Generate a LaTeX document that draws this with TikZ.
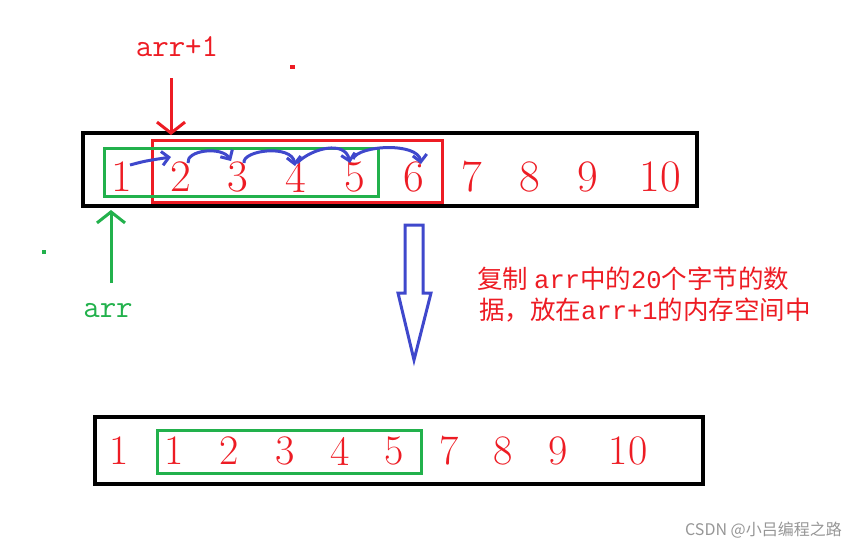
\documentclass[tikz,border=0pt]{standalone}
\usepackage{fontspec}
\newfontfamily\cjk{Noto Sans CJK SC}
\newfontfamily\mono{Liberation Mono}
\usetikzlibrary{arrows.meta}
\definecolor{pred}{RGB}{237,28,36}
\definecolor{pgreen}{RGB}{34,177,76}
\definecolor{pblue}{RGB}{63,72,204}
\definecolor{wm}{RGB}{150,150,150}
\tikzset{
  dig/.style={text=pred,inner sep=0pt,font=\fontsize{45}{45}\selectfont},
  digb/.style={text=pred,inner sep=0pt,font=\fontsize{42}{42}\selectfont},
  blk/.style={draw=black,line width=3.5pt},
  rbox/.style={draw=pred,line width=3pt},
  gbox/.style={draw=pgreen,line width=3pt},
  bar/.style={draw=pblue,line width=3pt,-{Straight Barb[length=7pt,width=14pt,line width=3pt]}},
  ptr/.style={line width=3pt,-{Straight Barb[length=11pt,width=28pt,line width=3pt]}},
  lbl/.style={inner sep=0pt,font=\ttfamily\fontsize{32}{32}\selectfont},
  note/.style={anchor=west,inner sep=0pt,text=pred,font=\cjk\fontsize{25.5}{25.5}\selectfont}
}
\begin{document}
\begin{tikzpicture}[x=1pt,y=-1pt]
\useasboundingbox (0,0) rectangle (858,549);
% top row
\node[blk,minimum width=614pt,minimum height=73pt,inner sep=0pt] (topbox) at (390,169.5) {};
\node[rbox,minimum width=290pt,minimum height=62pt,inner sep=0pt] (redbox) at (297,171) {};
\node[gbox,minimum width=274pt,minimum height=48pt,inner sep=0pt] (greenbox) at (241,172) {};
\foreach \n/\x in {1/122,2/181,3/238,4/296,5/355,6/414,7/472,8/530,9/588,10/660}
  \node[dig] (t\n) at (\x,177) {\n};
% pointers
\node[lbl,text=pred] (lp) at (177,47) {arr+1};
\coordinate (lpa) at (171,78);
\coordinate (lpb) at (171,135);
\draw[ptr,pred] (lpa) -- (lpb);
\node[lbl,text=pgreen] (lg) at (108,311) {arr};
\coordinate (lga) at (111,283);
\coordinate (lgb) at (111,210);
\draw[ptr,pgreen] (lga) -- (lgb);
% stray dots
\fill[pred] (290,65) rectangle (295,69);
\fill[pgreen] (42,250) rectangle (46,254);
% blue copy arrows
\coordinate (s1) at (130,165); \coordinate (e1) at (171,157);
\coordinate (s2) at (188,163); \coordinate (e2) at (231,161);
\coordinate (s3) at (244,163); \coordinate (e3) at (295,166);
\coordinate (s4) at (297,163); \coordinate (e4) at (350,163);
\coordinate (s5) at (353,159); \coordinate (e5) at (421,164);
\draw[bar] (s1) .. controls (145,161) .. (e1);
\draw[bar] (s2) .. controls (186,150) and (222,146) .. (e2);
\draw[bar] (s3) .. controls (242,150) and (292,144) .. (e3);
\draw[bar] (s4) .. controls (312,148) and (345,140) .. (e4);
\draw[bar] (s5) .. controls (358,145) and (418,142) .. (e5);
% big hollow arrow
\draw[pblue,line width=3pt,line join=miter] (405,225) -- (423,225) -- (423,293) -- (431,293) -- (414,360) -- (398,293) -- (405,293) -- cycle;
% explanation
\node[note] (t1l) at (477,279) {复制\kern6pt{\mono arr}中的{\mono 20}个字节的数};
\node[note] (t2l) at (479,310) {据，放在{\mono arr+1}的内存空间中};
% bottom row
\node[blk,minimum width=608pt,minimum height=67pt,inner sep=0pt] (botbox) at (399,450.5) {};
\node[gbox,minimum width=264pt,minimum height=43pt,inner sep=0pt] (greenbox2) at (289,451.5) {};
\node[digb] (b0) at (119,451) {1};
\foreach \n/\x in {1/174,2/229,3/285,4/340,5/394,7/449,8/503,9/558,10/628}
  \node[digb] (b\n) at (\x,451) {\n};
% watermark
\node[anchor=east,inner sep=0pt,text=wm,font=\cjk\fontsize{16}{16}\selectfont] (wmk) at (842,530) {CSDN @小吕编程之路};
\end{tikzpicture}
\end{document}
